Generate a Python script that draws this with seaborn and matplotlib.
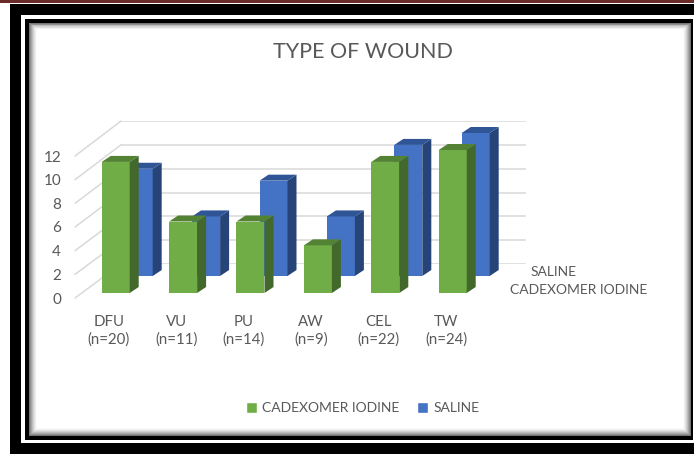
import matplotlib
matplotlib.use("Agg")
import matplotlib.pyplot as plt
import seaborn as sns
from matplotlib.patches import Polygon, Rectangle
from matplotlib.transforms import IdentityTransform

categories = ["DFU", "VU", "PU", "AW", "CEL", "TW"]
counts = ["n=20", "n=11", "n=14", "n=9", "n=22", "n=24"]
cadexomer = [11, 6, 6, 4, 11, 12]
saline = [9, 5, 8, 5, 11, 12]
y_ticks = [0, 2, 4, 6, 8, 10, 12]
series_names = ["CADEXOMER IODINE", "SALINE"]

W, H = 694, 454
GREY = "#595959"

sns.set_theme(style="white")
plt.rcParams["font.family"] = ["Lato", "DejaVu Sans"]

fig = plt.figure(figsize=(W / 100, H / 100), dpi=100, facecolor="white")


def box(x0, y0, x1, y1, color, z=0):
    # rectangle given in picture pixels, y going down
    fig.add_artist(Rectangle((x0 / W, 1 - y1 / H), (x1 - x0) / W, (y1 - y0) / H,
                             transform=fig.transFigure, fc=color, ec="none", zorder=z))


# frame around the picture
box(0, 0, W, 3, "#6b2a2a")
box(10, 4, W, H, "black")
box(21, 15, W, 443, "white")
box(25, 19, 693, 440, "black")
steps = 9
for i in range(steps):
    t = (i + 1) / steps
    g = 1 - 0.65 * (1 - t) ** 1.6
    box(29 + i, 23 + i * 0.8, 691 - i, 436 - i, (g, g, g))


def make_axes(left, bottom, top, right, z):
    ax = fig.add_axes([left / W, 1 - bottom / H, (right - left) / W, (bottom - top) / H], zorder=z)
    ax.set_xlim(-0.5, 5.5)
    ax.set_ylim(0, 12)
    ax.patch.set_alpha(0)
    sns.despine(ax=ax, left=True, bottom=True)
    ax.set_xlabel("")
    ax.set_ylabel("")
    return ax


# back wall with gridlines, front edge with the labels
wall = make_axes(121, 264, 121, 526, 1)
front = make_axes(75, 298, 156, 480, 1)
wall.set_xticks([])
wall.set_yticks(y_ticks)
wall.tick_params(labelleft=False, length=0)
wall.grid(axis="y", color="#d9d9d9", lw=1.1)
front.set_xticks(range(len(categories)))
front.set_xticklabels([f"{c}\n({n})" for c, n in zip(categories, counts)],
                      fontsize=10.8, color=GREY, linespacing=1.3)
front.set_yticks(y_ticks)
front.tick_params(axis="y", labelsize=11, labelcolor=GREY, length=0, pad=10)
front.tick_params(axis="x", length=0, pad=12)

# diagonals from the front edge to the wall
for v in y_ticks:
    a = front.transData.transform((-0.5, v))
    b = wall.transData.transform((-0.5, v))
    fig.add_artist(plt.Line2D([a[0], b[0]], [a[1], b[1]], transform=IdentityTransform(),
                              color="#d9d9d9", lw=1.1, zorder=0.5))


def bars_3d(ax, values, face, top, side):
    sns.barplot(x=list(range(len(values))), y=values, color=face, saturation=1,
                width=28 / 67.4, ax=ax, native_scale=True, legend=False, linewidth=0)
    ax.set_xlim(-0.5, 5.5)
    ax.set_ylim(0, 12)
    ax.set_xlabel("")
    ax.set_ylabel("")
    ax.set_xticks([])
    ax.set_yticks([])
    dx, dy = 9, 6
    for p in ax.patches[:]:
        (x0, y0), (x1, y1) = ax.transData.transform(p.get_bbox().get_points())
        ax.add_patch(Polygon([(x1, y0), (x1 + dx, y0 + dy), (x1 + dx, y1 + dy), (x1, y1)],
                             transform=IdentityTransform(), fc=side, ec="none", clip_on=False))
        ax.add_patch(Polygon([(x0, y1), (x0 + dx, y1 + dy), (x1 + dx, y1 + dy), (x1, y1)],
                             transform=IdentityTransform(), fc=top, ec="none", clip_on=False))


# 11.9 px per unit, saline row sits 23 px right and 17 px up of the front row
blue_ax = make_axes(82 + 23, 293 - 17, 150 - 17, 486.4 + 23, 2)
green_ax = make_axes(82, 293, 150, 486.4, 3)
bars_3d(blue_ax, saline, "#4472c4", "#2f5597", "#264478")
bars_3d(green_ax, cadexomer, "#70ad47", "#548235", "#43682b")

# depth axis names
fig.text(553.5 / W, 1 - 272 / H, series_names[1], ha="center", va="center",
         fontsize=10, color=GREY, zorder=5)
fig.text(579 / W, 1 - 290 / H, series_names[0], ha="center", va="center",
         fontsize=10, color=GREY, zorder=5)

fig.text(363 / W, 1 - 52 / H, "TYPE OF WOUND", ha="center", va="center",
         fontsize=15.5, color=GREY, zorder=5)

handles = [Rectangle((0, 0), 1, 1, fc="#70ad47"), Rectangle((0, 0), 1, 1, fc="#4472c4")]
leg = fig.legend(handles, series_names, loc="center", bbox_to_anchor=(362.5 / W, 1 - 408 / H),
                 ncol=2, frameon=False, fontsize=10, labelcolor=GREY, handlelength=0.8,
                 handleheight=0.8, handletextpad=0.35, columnspacing=1.3)
leg.set_zorder(5)

fig.savefig("out.png", dpi=100)
